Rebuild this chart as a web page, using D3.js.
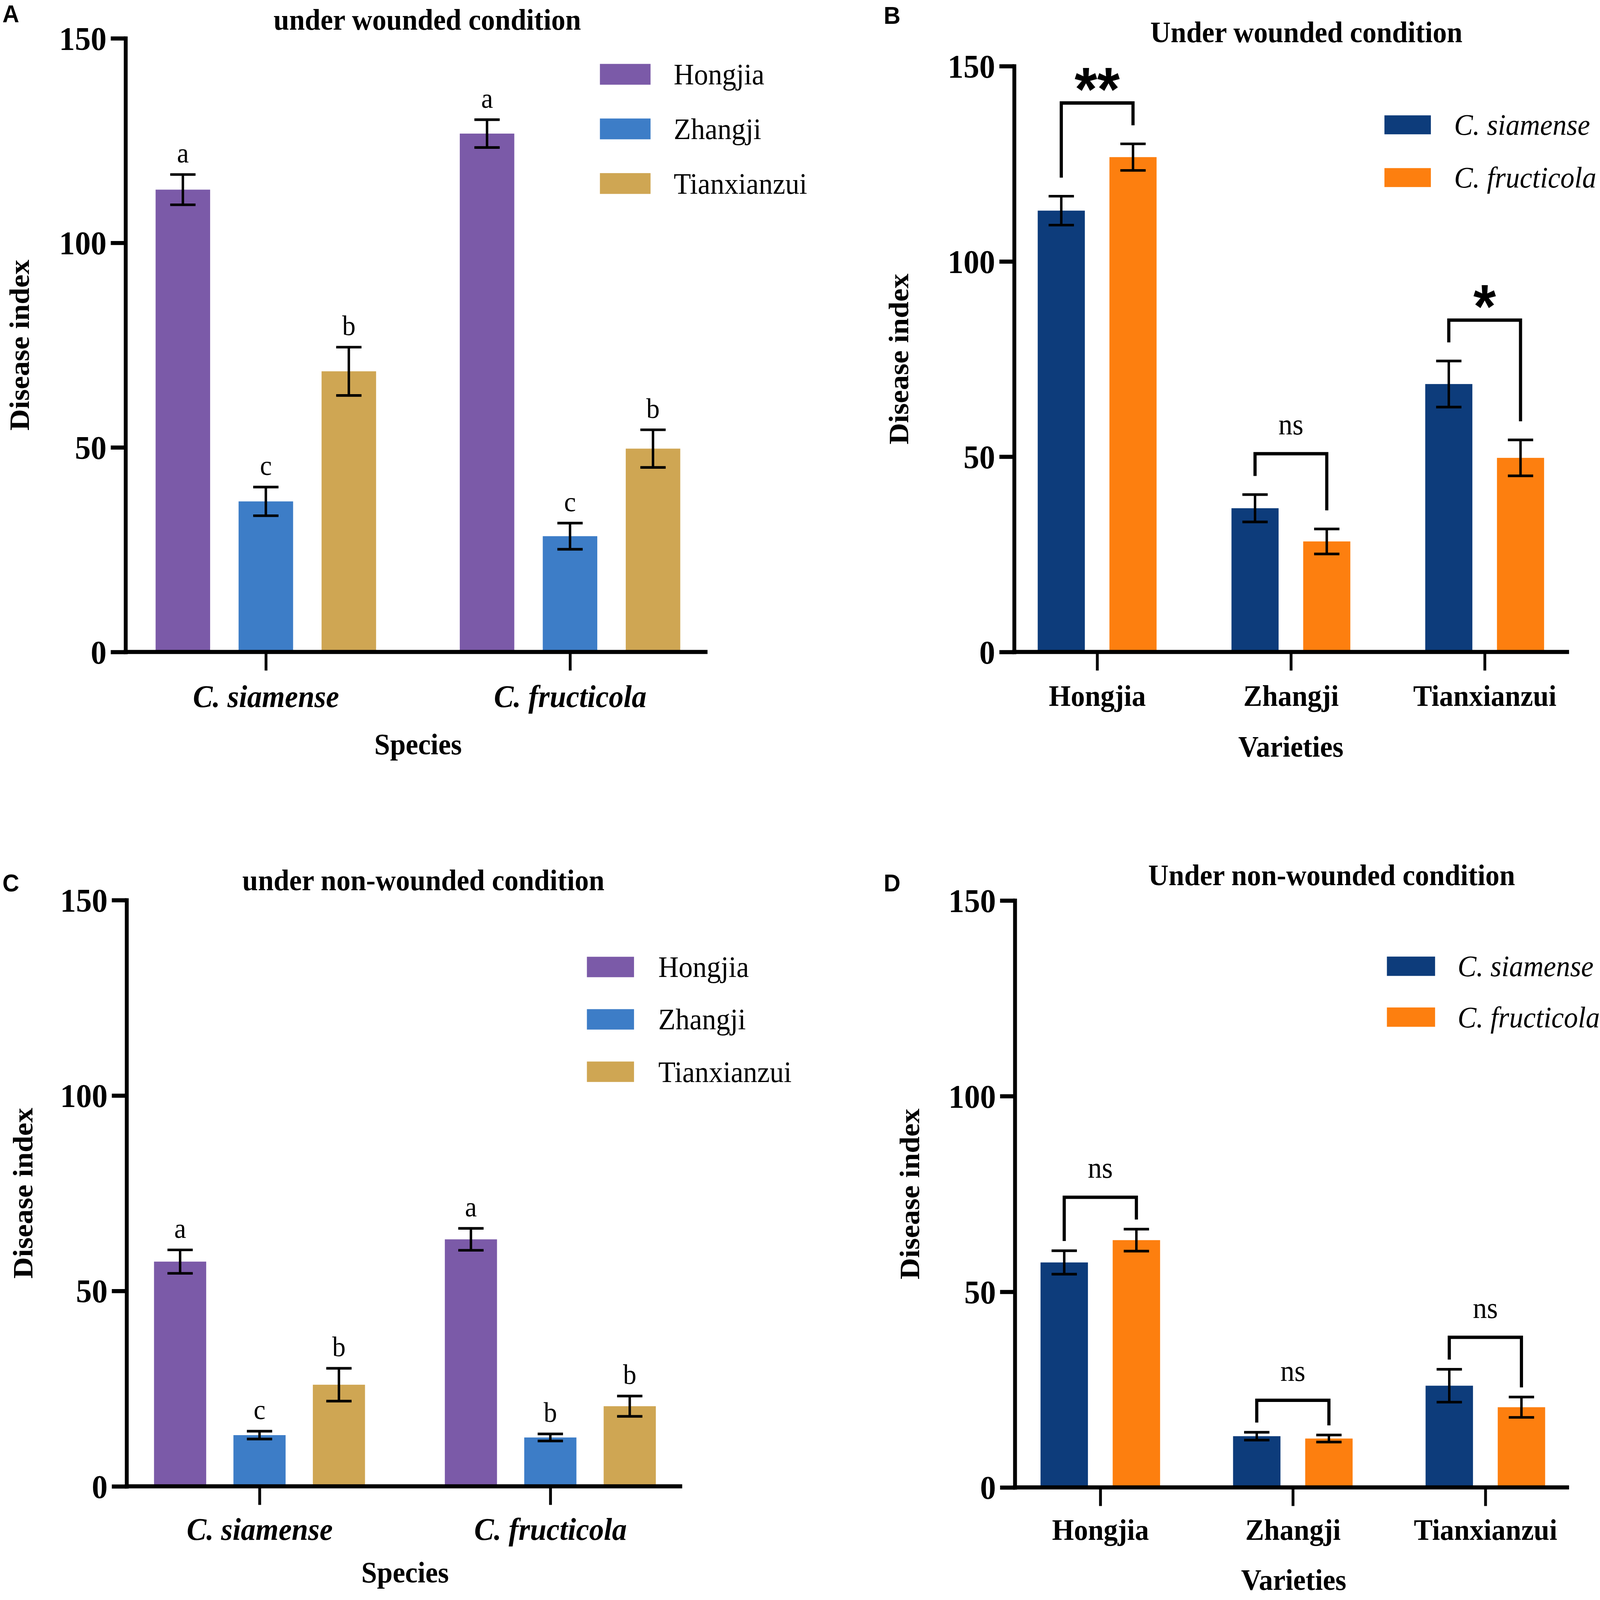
<!DOCTYPE html>
<html>
<head>
<meta charset="utf-8">
<script src="https://cdn.jsdelivr.net/npm/d3@7"></script>
<style>
  html, body { margin: 0; padding: 0; background: #fff; overflow: hidden; }
  svg { display: block; width: 100vw; height: 100vh; }
</style>
</head>
<body>
<script>
// ---- data ----
const species = ['C. siamense', 'C. fructicola'];
const varieties = ['Hongjia', 'Zhangji', 'Tianxianzui'];
const yTicks = [0, 50, 100, 150];

// rows = species, columns = varieties
const woundedMean = [[113, 36.8, 68.6], [126.7, 28.3, 49.7]];
const woundedSE = [[3.7, 3.5, 5.9], [3.4, 3.2, 4.6]];
const nonWoundedMean = [[57.5, 13.1, 26], [63.2, 12.5, 20.5]];
const nonWoundedSE = [[3, 1, 4.2], [2.8, 0.9, 2.6]];

const woundedLetters = [['a', 'c', 'b'], ['a', 'c', 'b']];
const nonWoundedLetters = [['a', 'c', 'b'], ['a', 'b', 'b']];

// one per variety, C. siamense vs C. fructicola
const woundedSig = ['**', 'ns', '*'];
const nonWoundedSig = ['ns', 'ns', 'ns'];

const varietyColors = ['#7b5aa8', '#3d7dc7', '#cfa653'];
const speciesColors = ['#0d3c7b', '#fd7f0f'];

const SERIF = '"Liberation Serif", "Times New Roman", serif';
const SANS = '"Liberation Sans", Arial, sans-serif';

const W = 4550;
const H = 4307;

// the svg fills the window whatever its real size; drawing units stay 4550 x 4307
const svg = d3.select('body').append('svg')
  .attr('viewBox', `0 0 ${W} ${H}`)
  .attr('preserveAspectRatio', 'none');

function makeRows(bySpecies, mean, se, letters) {
  const rows = [];
  species.forEach((s, i) => {
    varieties.forEach((v, j) => {
      rows.push({
        outer: bySpecies ? s : v,
        inner: bySpecies ? v : s,
        mean: mean[i][j],
        se: se[i][j],
        letter: letters ? letters[i][j] : null,
      });
    });
  });
  return rows;
}

function drawPanel(p) {
  const g = svg.append('g').attr('class', `panel ${p.tag}`);
  const y = d3.scaleLinear().domain([0, 150]).range([p.bottom, p.top]);
  const x0 = d3.scalePoint().domain(p.outer).range(p.centers);
  const x1 = d3.scaleBand().domain(p.inner).range([-p.span / 2, p.span / 2]).paddingInner(0.343);
  const color = d3.scaleOrdinal(p.inner, p.colors);
  const cx = d => x0(d.outer) + x1(d.inner) + (x1.bandwidth() / 2);

  // bars
  g.append('g').selectAll('rect').data(p.rows).join('rect')
    .attr('x', d => x0(d.outer) + x1(d.inner))
    .attr('y', d => y(d.mean))
    .attr('width', x1.bandwidth())
    .attr('height', d => y(0) - y(d.mean))
    .attr('fill', d => color(d.inner));

  // error bars
  const err = g.append('g')
    .attr('stroke', '#000')
    .attr('stroke-width', 7)
    .selectAll('g').data(p.rows).join('g')
    .attr('transform', d => `translate(${cx(d)},0)`);
  err.append('line')
    .attr('y1', d => y(d.mean - d.se))
    .attr('y2', d => y(d.mean + d.se));
  err.append('line')
    .attr('x1', -p.cap / 2).attr('x2', p.cap / 2)
    .attr('y1', d => y(d.mean + d.se)).attr('y2', d => y(d.mean + d.se));
  err.append('line')
    .attr('x1', -p.cap / 2).attr('x2', p.cap / 2)
    .attr('y1', d => y(d.mean - d.se)).attr('y2', d => y(d.mean - d.se));

  // y axis
  const yg = g.append('g')
    .attr('transform', `translate(${p.left},0)`)
    .call(d3.axisLeft(y).tickValues(yTicks).tickSize(42).tickSizeOuter(0).tickPadding(12));
  yg.attr('font-family', SERIF).attr('font-size', 90).attr('font-weight', 'bold');
  yg.select('.domain').attr('stroke-width', 11).attr('stroke-linecap', 'square');
  yg.selectAll('.tick line').attr('stroke-width', 11);
  yg.selectAll('.tick text').attr('fill', '#000').attr('dy', '0.34em');

  // x axis
  g.append('line')
    .attr('x1', p.left - 5.5).attr('x2', p.right)
    .attr('y1', y(0)).attr('y2', y(0))
    .attr('stroke', '#000').attr('stroke-width', 11);
  const xg = g.append('g')
    .attr('transform', `translate(0,${y(0)})`)
    .call(d3.axisBottom(x0).tickSize(50).tickSizeOuter(0));
  xg.select('.domain').remove();
  xg.attr('font-family', SERIF).attr('font-size', p.catSize).attr('font-weight', 'bold');
  xg.selectAll('.tick line').attr('stroke-width', 8);
  xg.selectAll('.tick text')
    .attr('fill', '#000')
    .attr('font-style', p.italicCats ? 'italic' : null)
    .attr('y', p.catY - y(0))
    .attr('dy', 0);

  // titles
  g.append('text')
    .attr('x', p.titleX).attr('y', p.titleY)
    .attr('text-anchor', 'middle')
    .attr('font-family', SERIF).attr('font-size', 80).attr('font-weight', 'bold')
    .text(p.title);
  g.append('text')
    .attr('x', p.tagX).attr('y', p.tagY)
    .attr('font-family', SANS).attr('font-size', 66).attr('font-weight', 'bold')
    .text(p.tag);
  g.append('text')
    .attr('transform', `translate(${p.yLabelX},${(p.top + p.bottom) / 2}) rotate(-90)`)
    .attr('dy', '0.33em')
    .attr('text-anchor', 'middle')
    .attr('font-family', SERIF).attr('font-size', 80).attr('font-weight', 'bold')
    .text('Disease index');
  g.append('text')
    .attr('x', p.xTitleX).attr('y', p.xTitleY)
    .attr('text-anchor', 'middle')
    .attr('font-family', SERIF).attr('font-size', 80).attr('font-weight', 'bold')
    .text(p.xTitle);

  // legend
  const lg = g.append('g').selectAll('g').data(p.inner).join('g')
    .attr('transform', (d, i) => `translate(${p.legendX},${p.legendY + (i * p.legendStep)})`);
  lg.append('rect')
    .attr('y', -p.legendH / 2)
    .attr('width', p.legendW)
    .attr('height', p.legendH)
    .attr('fill', d => color(d));
  lg.append('text')
    .attr('x', p.legendTextDx)
    .attr('dy', '0.34em')
    .attr('font-family', SERIF).attr('font-size', 80)
    .attr('font-style', p.italicLegend ? 'italic' : null)
    .text(d => d);

  // letters above error bars
  if (p.letters) {
    g.append('g').selectAll('text').data(p.rows).join('text')
      .attr('x', cx)
      .attr('y', d => y(d.mean + d.se) - 32)
      .attr('text-anchor', 'middle')
      .attr('font-family', SERIF).attr('font-size', 76)
      .text(d => d.letter);
  }

  // significance brackets
  if (p.sig) {
    const bg = g.append('g');
    p.outer.forEach((o, k) => {
      const pair = p.rows.filter(d => d.outer === o);
      const legs = pair.map(d => y(d.mean + d.se) - p.legGap);
      const top = d3.min(legs) - 60;
      const xl = cx(pair[0]);
      const xr = cx(pair[1]);
      bg.append('path')
        .attr('d', `M${xl},${legs[0]}V${top}H${xr}V${legs[1]}`)
        .attr('fill', 'none')
        .attr('stroke', '#000')
        .attr('stroke-width', 9);
      const label = p.sig[k];
      const isStar = label !== 'ns';
      bg.append('text')
        .attr('x', (xl + xr) / 2)
        .attr('y', isStar ? top + 20 : top - 52)
        .attr('text-anchor', 'middle')
        .attr('font-family', isStar ? SANS : SERIF)
        .attr('font-weight', isStar ? 'bold' : null)
        .attr('font-size', isStar ? 165 : 80)
        .text(label);
    });
  }
}

const panels = [
  {
    tag: 'A', title: 'under wounded condition', xTitle: 'Species',
    outer: species, inner: varieties, colors: varietyColors,
    rows: makeRows(true, woundedMean, woundedSE, woundedLetters), letters: true,
    italicCats: true, italicLegend: false, catSize: 84,
    left: 357, right: 2012, top: 103, bottom: 1755, centers: [756, 1621], span: 627, cap: 72,
    titleX: 1215, titleY: 80, tagX: 7, tagY: 60, yLabelX: 56, catY: 1903, xTitleX: 1189, xTitleY: 2030,
    legendX: 1706, legendW: 144, legendH: 56, legendY: 200, legendStep: 147, legendTextDx: 210,
  },
  {
    tag: 'B', title: 'Under wounded condition', xTitle: 'Varieties',
    outer: varieties, inner: species, colors: speciesColors,
    rows: makeRows(false, woundedMean, woundedSE, null), sig: woundedSig, legGap: 50,
    italicCats: false, italicLegend: true, catSize: 80,
    left: 2884, right: 4462, top: 178, bottom: 1755, centers: [3120, 4222], span: 338, cap: 72,
    titleX: 3715, titleY: 114, tagX: 2513, tagY: 64, yLabelX: 2556, catY: 1900, xTitleX: 3671, xTitleY: 2037,
    legendX: 3937, legendW: 132, legendH: 51, legendY: 336, legendStep: 142, legendTextDx: 198,
  },
  {
    tag: 'C', title: 'under non-wounded condition', xTitle: 'Species',
    outer: species, inner: varieties, colors: varietyColors,
    rows: makeRows(true, nonWoundedMean, nonWoundedSE, nonWoundedLetters), letters: true,
    italicCats: true, italicLegend: false, catSize: 84,
    left: 360, right: 1940, top: 2423, bottom: 4001, centers: [738, 1565], span: 600, cap: 72,
    titleX: 1204, titleY: 2396, tagX: 7, tagY: 2400, yLabelX: 66, catY: 4145, xTitleX: 1152, xTitleY: 4260,
    legendX: 1669, legendW: 134, legendH: 55, legendY: 2603, legendStep: 141, legendTextDx: 203,
  },
  {
    tag: 'D', title: 'Under non-wounded condition', xTitle: 'Varieties',
    outer: varieties, inner: species, colors: speciesColors,
    rows: makeRows(false, nonWoundedMean, nonWoundedSE, null), sig: nonWoundedSig, legGap: 26,
    italicCats: false, italicLegend: true, catSize: 80,
    left: 2886, right: 4462, top: 2424, bottom: 4004, centers: [3129, 4224], span: 340, cap: 72,
    titleX: 3787, titleY: 2383, tagX: 2513, tagY: 2400, yLabelX: 2587, catY: 4145, xTitleX: 3679, xTitleY: 4280,
    legendX: 3944, legendW: 137, legendH: 52, legendY: 2601, legendStep: 137, legendTextDx: 201,
  },
];

panels.forEach(drawPanel);
</script>
</body>
</html>
